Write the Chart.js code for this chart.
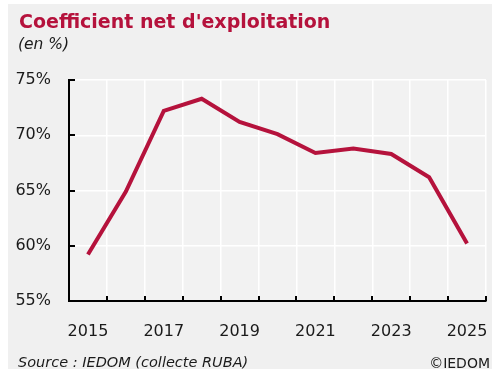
<!DOCTYPE html>
<html lang="fr">
<head>
<meta charset="utf-8">
<title>Coefficient net d'exploitation</title>
<script src="https://cdn.jsdelivr.net/npm/chart.js@4.4.1/dist/chart.umd.min.js"></script>
<style>
  html, body { margin: 0; padding: 0; background: #fff; }
  body { width: 492px; height: 369px; position: relative; overflow: hidden; font-family: "DejaVu Sans", Verdana, sans-serif; }
  #panel { position: absolute; left: 8px; top: 4px; right: 0; bottom: 0; background: #f0f0f0; }
  #chart { position: absolute; left: 0; top: 0; }
  .txt { position: absolute; white-space: nowrap; color: #1a1a1a; }
  #title { left: 19px; top: 10px; font-size: 19px; font-weight: bold; color: #b5123c; }
  #unit { left: 18px; top: 35px; font-size: 15.5px; font-style: italic; }
  #source { left: 18px; top: 354px; font-size: 14.5px; font-style: italic; }
  #copy { right: 2px; top: 355px; font-size: 14px; }
</style>
</head>
<body>
<div id="panel"></div>
<canvas id="chart" width="492" height="369"></canvas>
<div class="txt" id="title">Coefficient net d'exploitation</div>
<div class="txt" id="unit">(en %)</div>
<div class="txt" id="source">Source : IEDOM (collecte RUBA)</div>
<div class="txt" id="copy">©IEDOM</div>

<script>
const years = ['2015', '2016', '2017', '2018', '2019', '2020', '2021', '2022', '2023', '2024', '2025'];
const coefficient = [59.2, 64.9, 72.2, 73.3, 71.2, 70.1, 68.4, 68.8, 68.3, 66.2, 60.2];
const yTicks = [55, 60, 65, 70, 75];

const crimson = '#b5123c';
const ink = '#1a1a1a';

// plot background + short tick marks pointing into the plot
const innerTicks = {
  id: 'innerTicks',
  beforeDraw(chart) {
    const a = chart.chartArea;
    const c = chart.ctx;
    c.save();
    c.fillStyle = '#f2f2f2';
    c.fillRect(a.left, a.top, a.right - a.left, a.bottom - a.top);
    c.restore();
  },
  beforeDatasetsDraw(chart) {
    const a = chart.chartArea;
    const c = chart.ctx;
    const xs = chart.scales.x;
    const ys = chart.scales.y;
    c.save();
    c.strokeStyle = '#000';
    c.lineWidth = 2;
    c.beginPath();
    for (let i = 0; i <= years.length; i++) {
      const x = Math.round(xs.getPixelForValue(i - 0.5));
      c.moveTo(x, a.bottom);
      c.lineTo(x, a.bottom - 5);
    }
    yTicks.forEach(v => {
      const y = Math.round(ys.getPixelForValue(v));
      c.moveTo(a.left, y);
      c.lineTo(a.left + 6, y);
    });
    c.stroke();
    c.restore();
  }
};

// keep the plot box fixed, no extra room for the end labels
function noEdgePadding(s) {
  s.paddingLeft = 0;
  s.paddingRight = 0;
  s.paddingTop = 0;
  s.paddingBottom = 0;
}

new Chart(document.getElementById('chart'), {
  type: 'line',
  data: {
    labels: years,
    datasets: [{
      data: coefficient,
      borderColor: crimson,
      borderWidth: 4,
      borderJoinStyle: 'miter',
      pointRadius: 0,
      tension: 0,
      fill: false
    }]
  },
  options: {
    responsive: false,
    animation: false,
    devicePixelRatio: 1,
    layout: { padding: { left: 0, right: 6, top: 80, bottom: 0 } },
    plugins: { legend: { display: false }, tooltip: { enabled: false } },
    scales: {
      x: {
        type: 'category',
        offset: true,
        afterFit(s) { s.height = 68; noEdgePadding(s); },
        grid: { offset: true, color: '#ffffff', lineWidth: 1.5, drawTicks: false },
        border: { color: '#000', width: 2 },
        ticks: {
          autoSkip: false,
          maxRotation: 0,
          padding: 21,
          color: ink,
          font: { family: 'DejaVu Sans', size: 16 },
          callback(v, i) { return i % 2 === 0 ? years[i] : ''; }
        }
      },
      y: {
        min: 55,
        max: 75,
        afterFit(s) { s.width = 69; noEdgePadding(s); },
        grid: { color: '#ffffff', lineWidth: 1.5, drawTicks: false },
        border: { color: '#000', width: 2 },
        ticks: {
          stepSize: 5,
          padding: 18,
          color: ink,
          font: { family: 'DejaVu Sans', size: 16 },
          callback: v => v + '%'
        }
      }
    }
  },
  plugins: [innerTicks]
});
</script>
</body>
</html>
